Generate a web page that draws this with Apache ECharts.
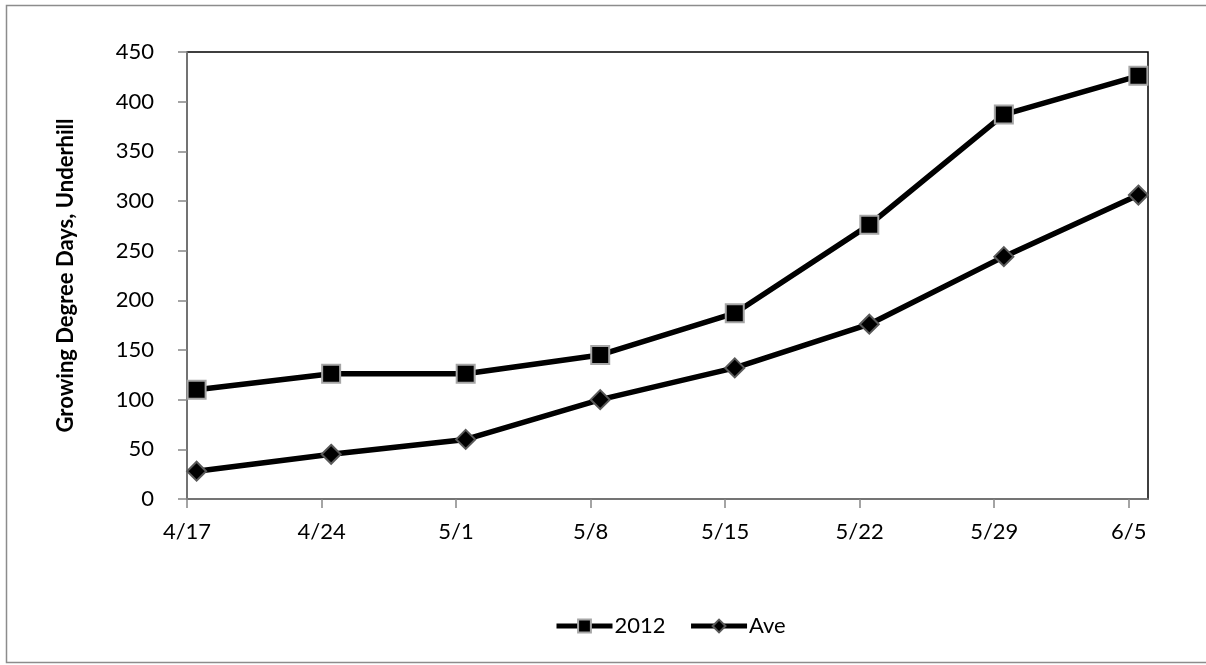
<!DOCTYPE html>
<html>
<head>
<meta charset="utf-8">
<script src="https://cdn.jsdelivr.net/npm/echarts@6/dist/echarts.min.js"></script>
<style>
  html, body { margin: 0; padding: 0; background: #fff; }
  #chart { width: 1206px; height: 665px; }
</style>
</head>
<body>
<div id="chart"></div>
<script>
// Weekly sampling dates (2012 season)
const dates = ['4/17', '4/24', '5/1', '5/8', '5/15', '5/22', '5/29', '6/5'];
// Accumulated growing degree days at Underhill
const gdd2012 = [110, 126, 126, 145, 187, 276, 387, 426];
const gddAve = [28, 45, 60, 100, 132, 176, 244, 306];
const yTicks = [0, 50, 100, 150, 200, 250, 300, 350, 400, 450];

// Day offsets from the first date; each point sits in the middle of its day slot
const year = 2012;
function toDay(s) {
  const [m, d] = s.split('/').map(Number);
  return new Date(year, m - 1, d).getTime() / 86400000;
}
const day0 = toDay(dates[0]);
const offsets = dates.map(s => Math.round(toDay(s) - day0));
const lastDay = offsets[offsets.length - 1] + 1;
const labelByDay = {};
offsets.forEach((o, i) => { labelByDay[o] = dates[i]; });

const FONT = 'Lato';
const axisGray = '#868686';

const chart = echarts.init(document.getElementById('chart'), null, { renderer: 'canvas' });
chart.setOption({
  animation: false,
  backgroundColor: '#fff',
  graphic: [{
    type: 'rect',
    shape: { x: 6.5, y: 5.5, width: 1220, height: 657 },
    style: { fill: 'none', stroke: '#8c8c8c', lineWidth: 1.5 },
    silent: true, z: -10
  }],
  grid: {
    left: 187, right: 58, top: 52, bottom: 166,
    show: true, borderColor: '#000', borderWidth: 1.5, backgroundColor: 'transparent'
  },
  legend: {
    left: 549, top: 610,
    itemWidth: 56, itemHeight: 16, itemGap: 23,
    lineStyle: { width: 5 },
    textStyle: { fontFamily: FONT, fontSize: 22, color: '#000', padding: [0, 0, 0, -3] },
    data: ['2012', 'Ave']
  },
  xAxis: {
    type: 'value',
    min: 0, max: lastDay, interval: 7,
    axisLine: { show: true, lineStyle: { color: axisGray, width: 1.5 } },
    axisTick: { show: true, inside: false, length: 9, lineStyle: { color: axisGray, width: 1.5 } },
    splitLine: { show: false },
    axisLabel: {
      fontFamily: FONT, fontSize: 22, color: '#000', margin: 22,
      showMaxLabel: false,
      formatter: v => (labelByDay[v] !== undefined ? labelByDay[v] : '')
    }
  },
  yAxis: {
    type: 'value',
    min: yTicks[0], max: yTicks[yTicks.length - 1], interval: yTicks[1] - yTicks[0],
    name: 'Growing Degree Days, Underhill',
    nameLocation: 'middle', nameGap: 110, nameRotate: 90,
    nameTextStyle: { fontFamily: FONT, fontSize: 22, fontWeight: 'bold', color: '#000' },
    axisLine: { show: true, lineStyle: { color: axisGray, width: 1.5 } },
    axisTick: { show: true, inside: false, length: 9, lineStyle: { color: axisGray, width: 1.5 } },
    splitLine: { show: false },
    axisLabel: { fontFamily: FONT, fontSize: 22, color: '#000', margin: 33 }
  },
  series: [
    {
      name: '2012',
      type: 'line',
      data: gdd2012.map((v, i) => [offsets[i] + 0.5, v]),
      symbol: 'rect', symbolSize: 18,
      lineStyle: { color: '#000', width: 5.5 },
      itemStyle: { color: '#000', borderColor: '#a6a6a6', borderWidth: 2 },
      z: 3
    },
    {
      name: 'Ave',
      type: 'line',
      data: gddAve.map((v, i) => [offsets[i] + 0.5, v]),
      symbol: 'diamond', symbolSize: 19,
      lineStyle: { color: '#000', width: 5.5 },
      itemStyle: { color: '#000', borderColor: '#595959', borderWidth: 2 },
      z: 3
    }
  ]
});
</script>
</body>
</html>
